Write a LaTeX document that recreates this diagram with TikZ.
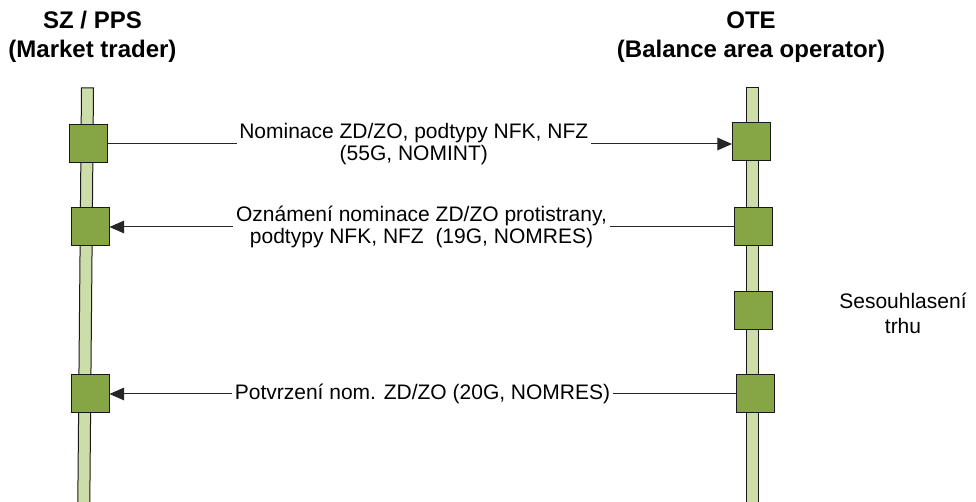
\documentclass[tikz,border=0pt]{standalone}
\usepackage{fontspec}
\setmainfont{Liberation Sans}
\usetikzlibrary{arrows.meta}

\definecolor{boxgreen}{RGB}{134,165,68}
\definecolor{lifegreen}{RGB}{204,221,170}

\tikzset{every picture/.style={line width=0.75pt}}
\tikzset{
	actbox/.style={draw=black!90, fill=boxgreen, minimum size=28.5pt, inner sep=0pt},
	lifeline/.style={draw=black!90, fill=lifegreen},
	msgline/.style={draw=black!85, -{Triangle[length=11pt,width=9.5pt]}},
	msglabel/.style={fill=white, inner xsep=2pt, inner ysep=0pt, align=center, font=\fontsize{15.75}{16}\selectfont},
	roletitle/.style={align=center, font=\fontsize{18}{21.75}\selectfont\bfseries}}

\begin{document}
\begin{tikzpicture}[x=0.75pt,y=0.75pt,yscale=-1,xscale=1]
	\useasboundingbox (0,0) rectangle (976,502);

	% Lifelines
	\draw[lifeline] (81.5,88) -- (93.5,88) -- (89.8,503) -- (77.8,503) -- cycle;
	\draw[lifeline] (746,88) rectangle (758.5,503);

	% Activation boxes
	\node[actbox] (trader1) at (88.5,144) {};
	\node[actbox] (ote1) at (751.5,141.5) {};
	\node[actbox] (trader2) at (90,227) {};
	\node[actbox] (ote2) at (753,227) {};
	\node[actbox] (ote3) at (753,310.5) {};
	\node[actbox] (trader3) at (90,394) {};
	\node[actbox] (ote4) at (755,394) {};

	% Messages
	\draw[msgline] (trader1.east) -- node[msglabel, pos=0.49] (nominace) {Nominace ZD/ZO, podtypy NFK, NFZ\\(55G, NOMINT)} (trader1.east -| ote1.west);
	\draw[msgline] (ote2.west) -- node[msglabel] (oznameni) {Oznámení nominace ZD/ZO protistrany,\\podtypy NFK, NFZ\ \ (19G, NOMRES)} (trader2.east);
	\draw[msgline] (ote4.west) -- node[msglabel] (potvrzeni) {Potvrzení nom. ZD/ZO (20G, NOMRES)} (trader3.east);

	% Text Node
	\node[roletitle] (trader) at (92.5,37) {SZ / PPS\\(Market trader)};
	% Text Node
	\node[roletitle] (ote) at (751,37) {OTE\\(Balance area operator)};
	% Text Node
	\node[align=center, font=\fontsize{15.75}{18.75}\selectfont] (sesouhlaseni) at (903,313) {Sesouhlasení\\trhu};

\end{tikzpicture}
\end{document}
